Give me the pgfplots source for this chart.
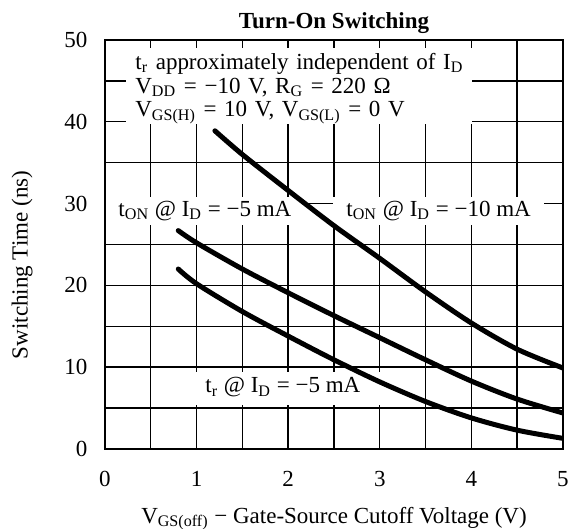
\documentclass[border=0pt]{standalone}
\usepackage{fontspec}
\setmainfont{Liberation Serif}
\usepackage{pgfplots}
\usepackage{pgfplotstable}
\pgfplotsset{compat=1.18}

% t_ON @ I_D = -10 mA
\pgfplotstableread{
x y
1.2 38.9
1.5 36.0
2.0 31.6
2.5 27.3
3.0 23.3
3.5 19.2
4.0 15.4
4.5 12.2
5.0 9.9
}\tonten

% t_ON @ I_D = -5 mA
\pgfplotstableread{
x y
0.8 26.7
1.0 25.2
1.5 22.0
2.0 19.1
2.5 16.3
3.0 13.6
3.5 10.9
4.0 8.3
4.5 6.1
5.0 4.4
}\tonfive

% t_r @ I_D = -5 mA
\pgfplotstableread{
x y
0.8 22.0
1.0 20.2
1.5 16.8
2.0 13.8
2.5 10.9
3.0 8.2
3.5 5.8
4.0 3.8
4.5 2.3
5.0 1.3
}\trfive

\begin{document}
\fontsize{11.5}{13}\selectfont
\begin{tikzpicture}
\begin{axis}[
  scale only axis, width=229pt, height=204.5pt,
  xmin=0, xmax=5, ymin=0, ymax=50,
  xtick={0,...,5}, minor xtick={0.5,1.5,...,4.5},
  ytick={0,10,...,50}, minor ytick={5,15,...,45},
  grid=both,
  every major grid/.style={black, line width=0.7pt},
  every minor grid/.style={black, line width=0.7pt},
  major tick length=0pt, minor tick length=0pt,
  axis line style={line width=0.9pt},
  /pgf/number format/assume math mode=true,
  xticklabel style={yshift=-7pt},
  yticklabel style={xshift=-4.75pt},
  title={\textbf{Turn-On Switching}},
  title style={at={(axis description cs:0.5,1.032)}, anchor=base, inner sep=0pt, yshift=-7pt},
  xlabel={V\textsubscript{GS(off)} − Gate-Source Cutoff Voltage (V)},
  xlabel style={at={(axis description cs:0.5,-0.181)}, anchor=base, inner sep=0pt},
  ylabel={Switching Time (ns)},
  ylabel style={at={(axis description cs:-0.181,0.45)}, anchor=center},
]
% condition block
\node[anchor=base west, fill=white, inner xsep=4.5pt, inner ysep=0pt, text width=164pt, align=left, text height=10.5pt, text depth=3.5pt]
  at (axis cs:0.229,46.45) {\mbox{t\textsubscript{r} approximately independent of I\textsubscript{D}}};
\node[anchor=base west, fill=white, inner xsep=4.5pt, inner ysep=0pt, text width=164pt, align=left, text height=8.5pt, text depth=3.5pt]
  at (axis cs:0.229,43.5) {\mbox{V\textsubscript{DD} = −10 V, R\textsubscript{G} = 220 Ω}};
\node[anchor=base west, fill=white, inner xsep=4.5pt, inner ysep=0pt, text width=164pt, align=left, text height=8.5pt, text depth=3.5pt]
  at (axis cs:0.229,40.6) {\mbox{V\textsubscript{GS(H)} = 10 V, V\textsubscript{GS(L)} = 0 V}};
% curve labels
\node[anchor=base west, fill=white, inner xsep=6pt, inner ysep=0pt, text height=9.5pt, text depth=4.5pt]
  at (axis cs:0.012,28.48) {t\textsubscript{ON} @ I\textsubscript{D} = −5 mA};
\node[anchor=base west, fill=white, inner xsep=6.5pt, inner ysep=0pt, text height=9.5pt, text depth=4.5pt]
  at (axis cs:2.49,28.48) {t\textsubscript{ON} @ I\textsubscript{D} = −10 mA};
\node[anchor=base west, fill=white, inner xsep=10pt, inner ysep=0pt, text height=10.5pt, text depth=6pt]
  at (axis cs:0.873,6.85) {t\textsubscript{r} @ I\textsubscript{D} = −5 mA};

\addplot[black, line width=2.5pt, smooth, line cap=round] table {\tonten};
\addplot[black, line width=2.5pt, smooth, line cap=round] table {\tonfive};
\addplot[black, line width=2.5pt, smooth, line cap=round] table {\trfive};
\end{axis}
\pgfresetboundingbox
\path (current axis.south west) ++(-52.5pt,-40pt) rectangle ++(284.5pt,264.5pt);
\end{tikzpicture}
\end{document}
